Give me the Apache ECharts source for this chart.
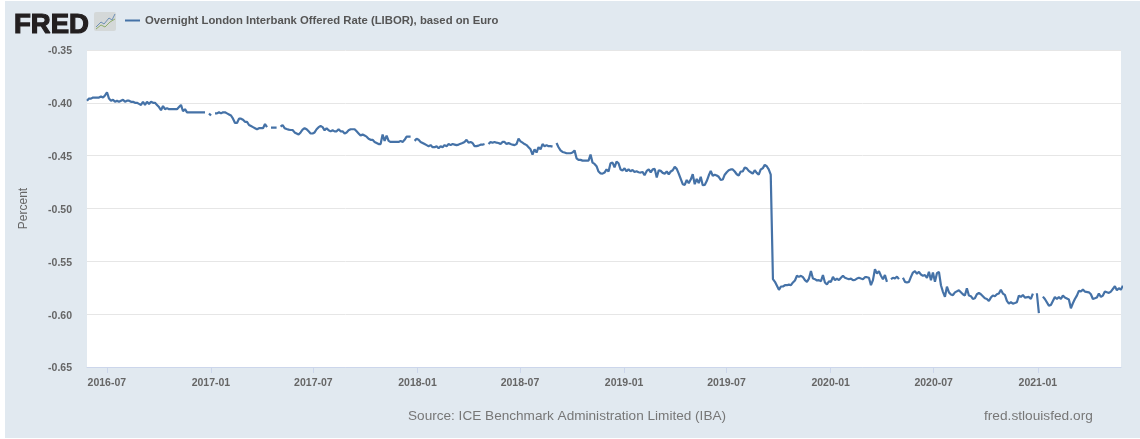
<!DOCTYPE html>
<html>
<head>
<meta charset="utf-8">
<style>html,body{margin:0;padding:0;background:#fff}#c{width:1140px;height:439px}</style>
<script src="https://cdn.jsdelivr.net/npm/echarts@6/dist/echarts.min.js"></script>
</head>
<body>
<div id="c"></div>
<script>
const seriesName = 'Overnight London Interbank Offered Rate (LIBOR), based on Euro';
const yAxisTitle = 'Percent';
const sourceText = 'Source: ICE Benchmark Administration Limited (IBA)';
const siteText = 'fred.stlouisfed.org';
const tickMonths = ['2016-07','2017-01','2017-07','2018-01','2018-07','2019-01','2019-07','2020-01','2020-07','2021-01'];
const axisStart = '2016-05-27';
const axisEnd = '2021-05-28';
const readingGapDays = 3.534;

const startA = '2016-05-27';
const ratesA = [-.398,-.396,-.396,-.395,-.395,-.395,-.395,-.394,-.395,-.393,-.390,-.396,-.398,-.397,-.399,-.398,-.399,-.398,-.397,-.399,-.398,-.398,-.399,-.399,-.400,-.400,-.401,-.402,-.399,-.402,-.399,-.401,-.399,-.400,-.400,-.402,-.404,-.407,-.403,-.406,-.405,-.406,-.406,-.406,-.406,-.406,-.404,-.402,-.408,-.406,-.409,-.409,-.409,-.409,-.409,-.409,-.409,-.409,-.409,-.409,null,-.410,-.412,null,-.410,-.410,-.409,-.410,-.409,-.409,-.410,-.411,-.412,-.415,-.419,-.419,-.415,-.415,-.416,-.418,-.418,-.421,-.422,-.423,-.424,-.425,-.424,-.424,-.424,-.420,-.423,null,-.4235,-.4235,-.4235];

const startB = '2017-04-27';
const ratesB = [-.4235,null,-.4226,-.421,-.424,-.4248,-.4254,-.4257,-.4257,-.428,-.429,-.430,-.428,-.4254,-.424,-.425,-.427,-.429,-.429,-.428,-.425,-.423,-.422,-.423,-.426,-.424,-.426,-.427,-.426,-.427,-.427,-.425,-.427,-.427,-.429,-.428,-.426,-.425,-.425,-.425,-.427,-.429,-.431,-.430,-.431,-.432,-.434,-.435,-.435,-.437,-.438,-.439,-.439,-.430,-.436,-.431,-.436,-.437,-.437,-.437,-.437,-.437,-.436,-.437,-.435,-.432,-.432,-.432,null,-.436,-.434,-.435,-.437,-.438,-.439,-.440,-.441,-.440,-.442,-.442,-.441,-.443,-.441,-.442,-.440,-.441,-.439,-.440,-.439,-.4395,-.440,-.4395];

const startC = '2018-03-18';
const ratesC = [-.440,-.438,-.437,-.435,-.4377,-.437,-.438,-.441,-.441,-.4405,-.4396,-.4396,-.439,null,-.439,-.437,-.4377,-.437,-.4377,-.438,-.439,-.437,-.437,-.439,-.438,-.439,-.4396,-.440,-.439,-.4339,-.4364,-.4377,-.439,-.440,-.442,-.444,-.449,-.444,-.447,-.442,-.444,-.439,-.441,-.440,-.441,-.441,-.4415,null,-.438,-.442,-.445,-.4465,-.447,-.4477,-.4477,-.4477,-.447,-.445,-.4525,-.454,-.454,-.4547,-.4547,-.4547,-.4547,-.449,-.4566,-.4578,-.460,-.465,-.4667,-.467,-.466,-.463,-.465,-.4572,-.4566,-.461,-.4556,-.4572,-.463,-.464,-.462,-.4648,-.463,-.4648,-.4635,-.4654,-.4648,-.4657,-.466,-.4654,-.4685];

const startD = '2019-02-10';
const ratesD = [-.4644,-.463,-.4657,-.463,-.4625,-.4707,-.4638,-.4644,-.4663,-.467,-.465,-.4676,-.465,-.4638,-.4606,-.4625,-.467,-.472,-.477,-.4777,-.473,-.476,-.4726,-.4676,-.477,-.472,-.476,-.47,-.478,-.4777,-.474,-.4688,-.4644,-.469,-.468,-.4688,-.47,-.473,-.4726,-.468,-.4657,-.4638,-.463,-.463,-.465,-.4676,-.4688,-.465,-.465,-.4613,-.462,-.4644,-.4657,-.467,-.4638,-.4663,-.468,-.463,-.462,-.4587,-.46,-.463,-.468];

const startE = '2019-09-21';
const ratesE = [-.5669,-.5694,-.5732,-.577,-.5738,-.5738,-.5726,-.5726,-.572,-.5726,-.570,-.5681,-.5637,-.5647,-.5637,-.565,-.5678,-.5694,-.5663,-.5593,-.5663,-.5669,-.5681,-.5678,-.5688,-.563,-.570,-.5719,-.5688,-.5694,-.5647,-.5678,-.5663,-.5678,-.5656,-.5637,-.5656,-.5663,-.5669,-.5663,-.5678,-.5675,-.5663,-.5656,-.5663,-.5669,-.565,-.565,-.5656,-.5726,-.5678,-.5574,-.5615,-.5593,-.5637,-.5669,-.563,-.5694,null,-.5669,-.5656,-.5663,-.5644,-.5669,null,-.5656,-.5694,-.57,-.5694,-.5647,-.5606,-.5593,-.5618,-.5599,-.5625,-.5637,-.563,-.5656,-.5599,-.5678,-.5606,-.5694,-.5612,-.5599,-.5726,-.5789,-.5836,-.574,-.5794,-.5813,-.582,-.5794];

const startF = '2020-08-11';
const ratesF = [-.578,-.5774,-.5793,-.5812,-.5824,-.5755,-.5824,-.583,-.5856,-.585,-.5812,-.58,-.5812,-.5831,-.585,-.5856,-.5875,-.5843,-.5824,-.583,-.5812,-.5805,-.5768,-.5805,-.5818,-.5875,-.59,-.5887,-.59,-.5894,-.5887,-.5824,-.5837,-.5818,-.5843,-.583,-.5837,-.5856,-.5805,null,-.5802,-.599,null,-.5834,-.5856,-.5862,-.5919,-.5913,-.5875,-.5837,-.5856,-.5837,-.5856,-.5824,-.5843,-.585,-.5862,-.5944,-.5897,-.5856,-.5824,-.578,-.5786,-.5768,-.5786,-.5774,-.5793,-.5812,-.5856,-.585,-.5843,-.5805,-.5837,-.5824,-.5786,-.5774,-.5799,-.5786,-.5786,-.5736,-.5774,-.5755,-.5768,-.573];

const segments = [[startA,ratesA],[startB,ratesB],[startC,ratesC],[startD,ratesD],[startE,ratesE],[startF,ratesF]];
const DAY = 86400000;
const toTime = s => Date.parse(s + 'T00:00:00Z');
const points = [];
segments.forEach(([start, rates]) => rates.forEach((v, i) => points.push([toTime(start) + i * readingGapDays * DAY, v])));
const tickTimes = tickMonths.map(m => toTime(m + '-01'));
const pad = n => String(n).padStart(2, '0');

const chart = echarts.init(document.getElementById('c'), null, {renderer:'canvas'});
chart.setOption({
  animation:false,
  backgroundColor:'#ffffff',
  textStyle:{fontFamily:'"Liberation Sans",Arial,sans-serif'},
  grid:{left:87,right:19,top:50,bottom:72,show:true,backgroundColor:'#ffffff',borderWidth:0},
  legend:{show:true,left:125,top:13,padding:[2,0,2,0],itemWidth:15,itemHeight:2,itemGap:0,icon:'rect',
    data:[{name:seriesName,itemStyle:{color:'#4572a7'}}],
    textStyle:{color:'#555555',fontSize:11.3,fontWeight:'bold',padding:[0,0,0,0]}},
  xAxis:{type:'value',min:toTime(axisStart),max:toTime(axisEnd),
    axisLine:{show:true,onZero:false,lineStyle:{color:'#ccd6eb',width:1}},
    axisTick:{show:true,length:6,customValues:tickTimes,lineStyle:{color:'#ccd6eb'}},
    splitLine:{show:false},
    axisLabel:{customValues:tickTimes,hideOverlap:false,margin:11,color:'#666666',fontSize:10.5,fontWeight:'bold',
      formatter:v=>{const d=new Date(v);return d.getUTCFullYear()+'-'+pad(d.getUTCMonth()+1);}}},
  yAxis:{type:'value',min:-0.65,max:-0.35,interval:0.05,
    name:yAxisTitle,nameLocation:'middle',nameGap:57,nameRotate:90,
    nameTextStyle:{color:'#666666',fontSize:12},
    axisLine:{show:false},axisTick:{show:false},
    splitLine:{lineStyle:{color:'#e6e6e6',width:1}},
    axisLabel:{margin:15,formatter:v=>'{t|'+v.toFixed(2)+'}',
      rich:{t:{color:'#666666',fontSize:10.5,fontWeight:'bold',padding:[3,0,0,0]}}}},
  series:[{name:seriesName,type:'line',data:points,showSymbol:false,connectNulls:false,clip:true,
    lineStyle:{color:'#4572a7',width:2.2},itemStyle:{color:'#4572a7'},smooth:false}],
  graphic:[
    {type:'rect',z:-1,silent:true,shape:{x:5,y:1,width:1135,height:437},style:{fill:'#e1e9f0'}},
    {type:'text',x:14,y:11,style:{text:'FRED',fill:'#231f20',stroke:'#231f20',lineWidth:1.2,font:'bold 27.5px "Liberation Sans",Arial,sans-serif'}},
    {type:'rect',shape:{x:94,y:12,width:22,height:19,r:2},style:{fill:'#d4d8d8'}},
    {type:'polyline',shape:{points:[[96,27],[101,22],[104,24],[109,18],[112,20],[115,14]]},style:{stroke:'#6d8fb5',lineWidth:1,fill:null}},
    {type:'polyline',shape:{points:[[96,29],[101,25],[105,27],[110,22],[115,19]]},style:{stroke:'#8fae6c',lineWidth:1,fill:null}},
    {type:'text',left:408,top:409,style:{text:sourceText,fill:'#777777',font:'13.6px "Liberation Sans",Arial,sans-serif'}},
    {type:'text',left:984,top:409,style:{text:siteText,fill:'#777777',font:'13.7px "Liberation Sans",Arial,sans-serif'}}
  ]
});
</script>
</body>
</html>
